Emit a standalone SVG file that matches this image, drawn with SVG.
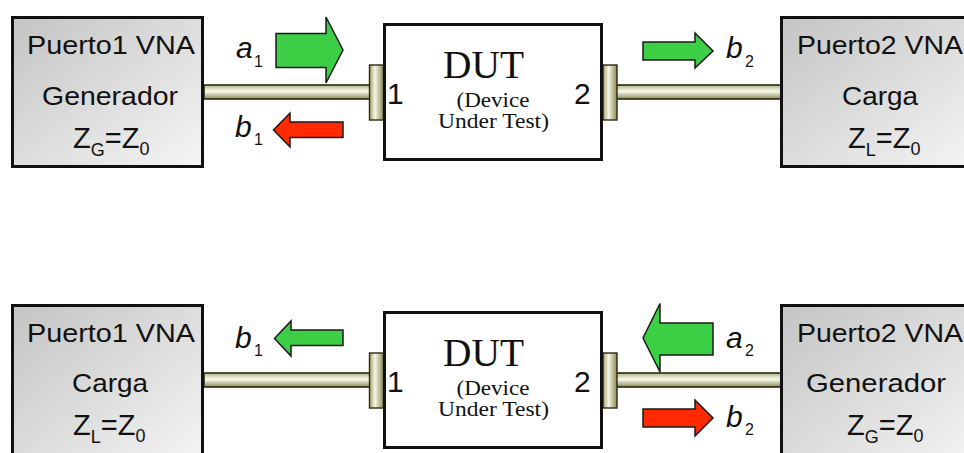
<svg xmlns="http://www.w3.org/2000/svg" width="964" height="453" viewBox="0 0 964 453">
<defs>
<linearGradient id="boxg" x1="0" y1="0" x2="1" y2="1">
<stop offset="0" stop-color="#c4c4c4"/>
<stop offset="1" stop-color="#f5f5f5"/>
</linearGradient>
<linearGradient id="cableg" x1="0" y1="0" x2="0" y2="1">
<stop offset="0" stop-color="#b5b585"/>
<stop offset="0.45" stop-color="#fafaee"/>
<stop offset="1" stop-color="#8c8c55"/>
</linearGradient>
<linearGradient id="plateg" x1="0" y1="0" x2="1" y2="0">
<stop offset="0" stop-color="#a3a36a"/>
<stop offset="0.4" stop-color="#f6f6e6"/>
<stop offset="1" stop-color="#8a8a52"/>
</linearGradient>
<style>
.box{fill:url(#boxg);stroke:#111;stroke-width:3}
.dut{fill:#fff;stroke:#111;stroke-width:3}
.cable{fill:url(#cableg);stroke:#2a2a14;stroke-width:1.6}
.plate{fill:url(#plateg);stroke:#2a2a14;stroke-width:1.4}
.green{fill:#3ccf45;stroke:#1a1a1a;stroke-width:1.5;stroke-linejoin:miter}
.red{fill:#ff2a00;stroke:#1a1a1a;stroke-width:1.5;stroke-linejoin:miter}
.s{font-family:"Liberation Sans",Arial,sans-serif;fill:#111}
.big{font-size:25px}
.z{font-family:"Liberation Sans",Arial,sans-serif;fill:#111;font-size:29px}
.sub{font-size:18px}
.it{font-family:"Liberation Sans",Arial,sans-serif;font-style:italic;font-size:30px;fill:#111}
.isub{font-style:normal;font-size:16px}
.num{font-family:"Liberation Sans",Arial,sans-serif;font-size:30px;fill:#111}
.serif{font-family:"Liberation Serif","Times New Roman",serif;fill:#111;text-anchor:middle}
.mid{text-anchor:middle}
</style>
</defs>
<rect width="964" height="453" fill="#fff"/>

<g id="connectors">
<rect class="cable" x="204" y="85" width="167" height="14"/>
<rect class="cable" x="615" y="85" width="166" height="14"/>
<rect class="cable" x="204" y="373" width="167" height="14"/>
<rect class="cable" x="615" y="373" width="166" height="14"/>
<rect class="plate" x="369.5" y="65" width="14" height="55"/>
<rect class="plate" x="603" y="65" width="14" height="55"/>
<rect class="plate" x="369.5" y="353" width="14" height="55"/>
<rect class="plate" x="603" y="353" width="14" height="55"/>
</g>

<g id="port1-top">
<rect class="box" x="12.5" y="17.5" width="190" height="149"/>
<text class="s big mid" x="111" y="54" textLength="168" lengthAdjust="spacingAndGlyphs">Puerto1 VNA</text>
<text class="s big mid" x="110" y="105" textLength="136" lengthAdjust="spacingAndGlyphs">Generador</text>
<text class="z" x="73" y="148">Z<tspan class="sub" dy="8">G</tspan><tspan dy="-8">=Z</tspan><tspan class="sub" dy="7">0</tspan></text>
</g>

<g id="dut-top">
<rect class="dut" x="384.5" y="24.5" width="217" height="135"/>
<text class="serif" x="483.5" y="78" font-size="40" textLength="81" lengthAdjust="spacingAndGlyphs">DUT</text>
<text class="serif" x="493" y="106.5" font-size="20" textLength="73" lengthAdjust="spacingAndGlyphs">(Device</text>
<text class="serif" x="493.5" y="128" font-size="20" textLength="111" lengthAdjust="spacingAndGlyphs">Under Test)</text>
<text class="num" x="387" y="104">1</text>
<text class="num" x="574" y="104">2</text>
</g>

<g id="port2-top">
<rect class="box" x="781.5" y="17.5" width="200" height="149"/>
<text class="s big mid" x="880" y="54" textLength="166" lengthAdjust="spacingAndGlyphs">Puerto2 VNA</text>
<text class="s big mid" x="880" y="105" textLength="76" lengthAdjust="spacingAndGlyphs">Carga</text>
<text class="z" x="848" y="148">Z<tspan class="sub" dy="8">L</tspan><tspan dy="-8">=Z</tspan><tspan class="sub" dy="7">0</tspan></text>
</g>

<g id="port1-bottom">
<rect class="box" x="12.5" y="305.5" width="190" height="160"/>
<text class="s big mid" x="111" y="342" textLength="168" lengthAdjust="spacingAndGlyphs">Puerto1 VNA</text>
<text class="s big mid" x="110" y="392" textLength="76" lengthAdjust="spacingAndGlyphs">Carga</text>
<text class="z" x="73" y="435">Z<tspan class="sub" dy="8">L</tspan><tspan dy="-8">=Z</tspan><tspan class="sub" dy="7">0</tspan></text>
</g>

<g id="dut-bottom">
<rect class="dut" x="384.5" y="312.5" width="217" height="135"/>
<text class="serif" x="483.5" y="366" font-size="40" textLength="81" lengthAdjust="spacingAndGlyphs">DUT</text>
<text class="serif" x="493" y="394.5" font-size="20" textLength="73" lengthAdjust="spacingAndGlyphs">(Device</text>
<text class="serif" x="493.5" y="416" font-size="20" textLength="111" lengthAdjust="spacingAndGlyphs">Under Test)</text>
<text class="num" x="387" y="392">1</text>
<text class="num" x="574" y="392">2</text>
</g>

<g id="port2-bottom">
<rect class="box" x="781.5" y="305.5" width="200" height="160"/>
<text class="s big mid" x="880" y="342" textLength="166" lengthAdjust="spacingAndGlyphs">Puerto2 VNA</text>
<text class="s big mid" x="876" y="392" textLength="140" lengthAdjust="spacingAndGlyphs">Generador</text>
<text class="z" x="847" y="435">Z<tspan class="sub" dy="8">G</tspan><tspan dy="-8">=Z</tspan><tspan class="sub" dy="7">0</tspan></text>
</g>

<g id="waves">
<path class="green" d="M276,33.5 H326 V17 L343,50 L326,83 V67.5 H276 Z"/>
<path class="red" d="M343,122 H290 V113 L273.5,130 L290,147 V137.5 H343 Z"/>
<path class="green" d="M643,42 H695 V33 L713,51 L695,68 V60 H643 Z"/>
<path class="green" d="M343,330 H291 V321 L274.5,338.5 L291,356 V345.5 H343 Z"/>
<path class="green" d="M713,323 H660 V303.5 L643,338 L660,372 V355 H713 Z"/>
<path class="red" d="M643,409 H695 V400 L713,418 L695,436 V427 H643 Z"/>

<text class="it" x="236" y="58">a<tspan class="isub" x="254" dy="9">1</tspan></text>
<text class="it" x="235" y="137">b<tspan class="isub" x="254" dy="8">1</tspan></text>
<text class="it" x="726" y="58">b<tspan class="isub" x="745" dy="9">2</tspan></text>
<text class="it" x="235" y="348">b<tspan class="isub" x="254" dy="8">1</tspan></text>
<text class="it" x="726" y="348">a<tspan class="isub" x="745" dy="8">2</tspan></text>
<text class="it" x="726" y="427">b<tspan class="isub" x="745" dy="8">2</tspan></text>
</g>
</svg>
